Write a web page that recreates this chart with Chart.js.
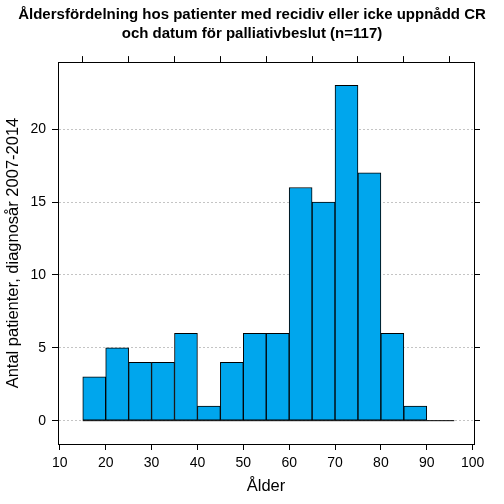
<!DOCTYPE html>
<html>
<head>
<meta charset="utf-8">
<script src="https://cdn.jsdelivr.net/npm/chart.js@4"></script>
<style>
  html, body { margin: 0; padding: 0; background: #fff; }
  #wrap { width: 504px; height: 504px; }
</style>
</head>
<body>
<div id="wrap"><canvas id="hist" width="504" height="504"></canvas></div>
<script>
// histogram bins (width 5), centres and counts
const ageBinCenters = [17.5, 22.5, 27.5, 32.5, 37.5, 42.5, 47.5, 52.5, 57.5, 62.5, 67.5, 72.5, 77.5, 82.5, 87.5];
const patientCounts = [3, 5, 4, 4, 6, 1, 4, 6, 6, 16, 15, 23, 17, 6, 1];
// zero line under the bars
const baselineAges = [15, 96];
const baselineCounts = [0, 0];

const xTickValues = [10, 20, 30, 40, 50, 60, 70, 80, 90, 100];
const yTickValues = [0, 5, 10, 15, 20];

const titleLines = [
  'Åldersfördelning hos patienter med recidiv eller icke uppnådd CR',
  'och datum för palliativbeslut (n=117)'
];
const xTitle = 'Ålder';
const yTitle = 'Antal patienter, diagnosår 2007-2014';

const FONT = "'Liberation Sans', Arial, sans-serif";
const X_MIN = 9.6, X_MAX = 100.3;
const Y_MIN = -1.6, Y_MAX = 24.6;

const setTicks = (vals) => (scale) => { scale.ticks = vals.map(v => ({ value: v })); };

const histData = ageBinCenters.map((x, i) => ({ x: x, y: patientCounts[i] }));
const baseData = baselineAges.map((x, i) => ({ x: x, y: baselineCounts[i] }));

new Chart(document.getElementById('hist'), {
  type: 'bar',
  data: {
    datasets: [
      {
        type: 'line',
        data: baseData,
        borderColor: '#000',
        borderWidth: 1,
        pointRadius: 0,
        order: 0
      },
      {
        type: 'bar',
        data: histData,
        backgroundColor: '#00A6ED',
        borderColor: '#000',
        borderWidth: 1,
        borderSkipped: false,
        barPercentage: 1,
        categoryPercentage: 1,
        order: 1
      }
    ]
  },
  options: {
    responsive: false,
    animation: false,
    layout: { padding: 0 },
    plugins: {
      legend: { display: false },
      tooltip: { enabled: false },
      title: {
        display: true,
        text: titleLines,
        color: '#000',
        font: { family: FONT, size: 15, weight: 'bold', lineHeight: 1.27 },
        padding: { top: 5, bottom: 0 }
      }
    },
    scales: {
      x: {
        type: 'linear',
        position: 'bottom',
        min: X_MIN, max: X_MAX,
        offset: false,
        afterBuildTicks: setTicks(xTickValues),
        afterFit: (s) => { s.height = 60; },
        grid: { drawOnChartArea: false, color: '#000', tickLength: 6, offset: false },
        border: { color: '#000', width: 1 },
        ticks: { color: '#000', font: { family: FONT, size: 14 }, padding: 5, maxRotation: 0 },
        title: { display: true, text: xTitle, color: '#000', font: { family: FONT, size: 16.5 }, padding: { top: 0, bottom: 8 } }
      },
      x2: {
        type: 'linear',
        position: 'top',
        min: X_MIN, max: X_MAX,
        offset: false,
        afterBuildTicks: setTicks(xTickValues),
        afterFit: (s) => { s.height = 19; },
        grid: { drawOnChartArea: false, color: '#000', tickLength: 6 },
        border: { color: '#000', width: 1 },
        ticks: { display: false }
      },
      y: {
        type: 'linear',
        position: 'left',
        min: Y_MIN, max: Y_MAX,
        afterBuildTicks: setTicks(yTickValues),
        afterFit: (s) => { s.width = 58; },
        grid: { color: '#c4c4c4', tickColor: '#000', tickBorderDash: [], tickLength: 6 },
        border: { color: '#000', width: 1, dash: [2, 2] },
        ticks: { color: '#000', font: { family: FONT, size: 14 }, padding: 6 },
        title: { display: true, text: yTitle, color: '#000', font: { family: FONT, size: 16.5 }, padding: { top: 4, bottom: 0 } }
      },
      y2: {
        type: 'linear',
        position: 'right',
        min: Y_MIN, max: Y_MAX,
        afterBuildTicks: setTicks(yTickValues),
        afterFit: (s) => { s.width = 30; },
        grid: { drawOnChartArea: false, color: '#000', tickLength: 6 },
        border: { color: '#000', width: 1 },
        ticks: { display: false }
      }
    }
  }
});
</script>
</body>
</html>
